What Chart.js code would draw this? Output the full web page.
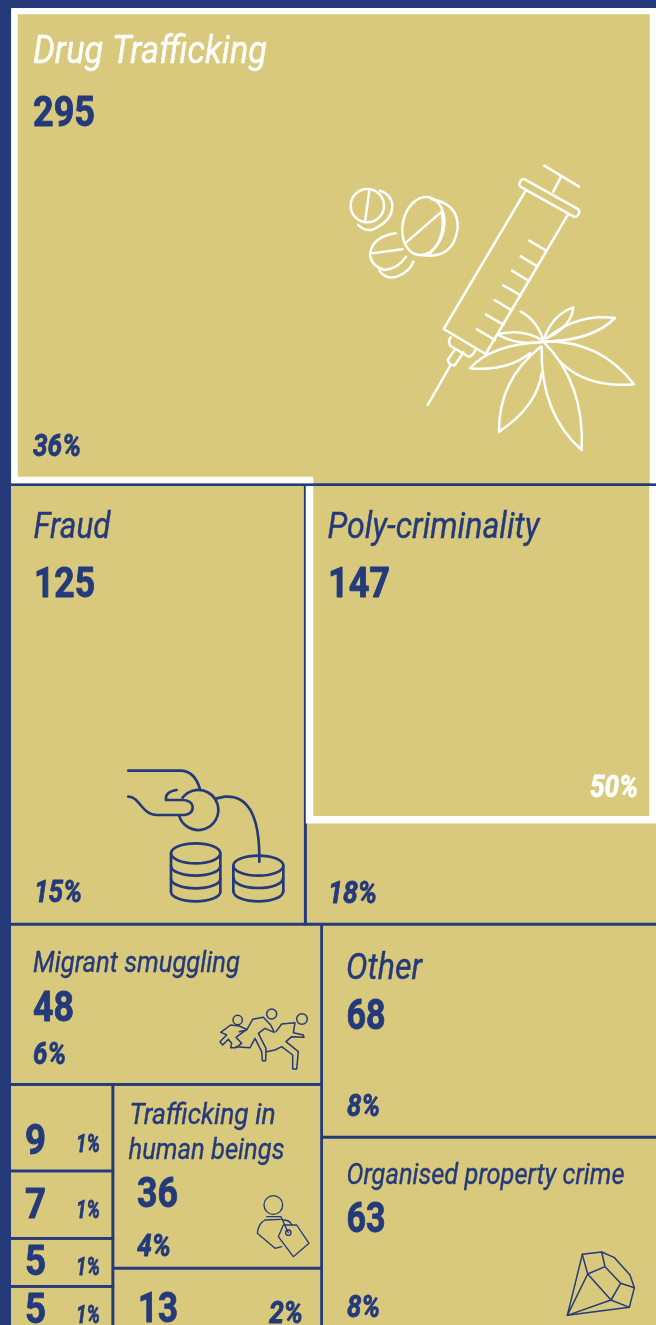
<!DOCTYPE html>
<html>
<head>
<meta charset="utf-8">
<script src="https://cdn.jsdelivr.net/npm/chart.js@4/dist/chart.umd.min.js"></script>
<style>
html, body { margin: 0; padding: 0; background: #243a7a; overflow: hidden; }
canvas { display: block; }
</style>
</head>
<body>
<canvas id="chart" width="656" height="1325"></canvas>
<script>
// 數據 (cell names, counts, share labels)
const categories = ['Drug Trafficking', 'Fraud', 'Poly-criminality', 'Migrant smuggling', 'Other',
    'Trafficking in', 'human beings', 'Organised property crime'];
const drugCount = 295;
const fraudCount = 125;
const polyCount = 147;
const migrantCount = 48;
const otherCount = 68;
const humanCount = 36;
const propertyCount = 63;
const smallCounts = [9, 7, 5, 5];
const thirteenCount = 13;
const shares = ['36%', '15%', '18%', '6%', '8%', '4%', '8%', '1%', '2%'];
const overlapShare = '50%';

const TAN = '#d9c97d';
const NAVY = '#243a7a';
const WHITE = '#ffffff';

// 樹狀圖 slice and dice, v = stacked rows, h = side by side
const tree = ['v', drugCount,
    ['h', fraudCount, polyCount],
    ['h',
        ['v', migrantCount,
            ['h', ['v', ...smallCounts], ['v', humanCount, thirteenCount]]],
        ['v', otherCount, propertyCount]]];

function total(node) {
    return Array.isArray(node) ? node.slice(1).reduce((s, n) => s + total(n), 0) : node;
}

const cells = [];
function layout(node, x, y, w, h) {
    if (!Array.isArray(node)) {
        cells.push({ x0: x, y0: y, x1: x + w, y1: y + h, value: node });
        return;
    }
    const sum = total(node);
    let pos = 0;
    node.slice(1).forEach(child => {
        const part = total(child) / sum;
        if (node[0] === 'v') layout(child, x, y + pos * h, w, part * h);
        else layout(child, x + pos * w, y, part * w, h);
        pos += part;
    });
}
layout(tree, 2, 8, 660, 1326.6);

function corners(c) {
    return [{ x: c.x0, y: c.y0 }, { x: c.x1, y: c.y0 }, { x: c.x1, y: c.y1 }, { x: c.x0, y: c.y1 }, { x: c.x0, y: c.y0 }];
}

const datasets = cells.map(c => ({
    label: String(c.value),
    data: corners(c),
    showLine: true,
    tension: 0,
    pointRadius: 0,
    borderWidth: 2.8,
    borderColor: NAVY,
    backgroundColor: TAN,
    fill: 'shape',
    order: 5
}));

// 白框 (the two white outlines)
const drugCell = cells[0];
const polyCell = cells[2];
datasets.push({
    label: 'drug frame',
    data: [
        { x: 653, y: drugCell.y1 - 1.4 },
        { x: 653, y: 11 },
        { x: 14.5, y: 11 },
        { x: 14.5, y: drugCell.y1 - 4.6 },
        { x: polyCell.x0 + 8, y: drugCell.y1 - 4.6 }
    ],
    showLine: true, tension: 0, pointRadius: 0,
    borderWidth: 6.5, borderColor: WHITE, fill: false,
    borderCapStyle: 'butt', borderJoinStyle: 'miter', order: 1
});
datasets.push({
    label: 'poly frame',
    data: [
        { x: polyCell.x0 + 4.2, y: polyCell.y0 + 1.4 },
        { x: polyCell.x0 + 4.2, y: 819.7 },
        { x: 653, y: 819.7 },
        { x: 653, y: polyCell.y0 + 1.4 }
    ],
    showLine: true, tension: 0, pointRadius: 0,
    borderWidth: 7.5, borderColor: WHITE, fill: false,
    borderCapStyle: 'butt', borderJoinStyle: 'miter', order: 1
});

const NAME = 'italic 400';
const COUNT = '700';
const PCT = 'italic 700';
// 字重補償: Roboto is lighter than the condensed face in the picture
const weightStroke = { [NAME]: 0.4, [COUNT]: 0.9, [PCT]: 0.8 };
// text, left x, baseline y, font, size, width, colour
const textItems = [
    [categories[0], 33, 63, NAME, 38, 234, WHITE],
    [drugCount, 33, 126, COUNT, 42, 62, NAVY],
    [shares[0], 33, 456, PCT, 32, 48, NAVY],
    [categories[1], 33.5, 538, NAME, 37, 77, NAVY],
    [fraudCount, 34, 597, COUNT, 42, 61, NAVY],
    [shares[1], 34, 902, PCT, 32, 48, NAVY],
    [categories[2], 327.5, 538, NAME, 37, 212, NAVY],
    [polyCount, 328, 597, COUNT, 42, 62, NAVY],
    [overlapShare, 590, 797, PCT, 32, 48, WHITE],
    [shares[2], 328, 903, PCT, 32, 49, NAVY],
    [categories[3], 33, 972, NAME, 30, 207, NAVY],
    [migrantCount, 33, 1021, COUNT, 42, 41, NAVY],
    [shares[3], 33, 1064, PCT, 31, 33, NAVY],
    [categories[4], 346, 979, NAME, 37, 76, NAVY],
    [otherCount, 346.5, 1029, COUNT, 42, 39, NAVY],
    [shares[4], 347, 1116, PCT, 31, 33, NAVY],
    [categories[7], 346.5, 1184, NAME, 30, 278, NAVY],
    [propertyCount, 346.5, 1232, COUNT, 42, 39, NAVY],
    [shares[6], 347, 1317, PCT, 31, 33, NAVY],
    [smallCounts[0], 25, 1154, COUNT, 42, 21, NAVY],
    [shares[7], 76, 1152, PCT, 25, 24, NAVY],
    [smallCounts[1], 25, 1218, COUNT, 42, 21, NAVY],
    [shares[7], 76, 1218, PCT, 25, 24, NAVY],
    [smallCounts[2], 25, 1275, COUNT, 42, 21, NAVY],
    [shares[7], 76, 1275, PCT, 25, 24, NAVY],
    [smallCounts[3], 25, 1323, COUNT, 42, 21, NAVY],
    [shares[7], 76, 1323, PCT, 25, 24, NAVY],
    [categories[5], 129.5, 1124, NAME, 30, 146, NAVY],
    [categories[6], 128.5, 1159, NAME, 30, 156, NAVY],
    [humanCount, 137, 1207, COUNT, 42, 41, NAVY],
    [shares[5], 137, 1256, PCT, 32, 34, NAVY],
    [thirteenCount, 138, 1322, COUNT, 42, 40, NAVY],
    [shares[8], 269, 1323, PCT, 31, 34, NAVY]
];

// 圖示 helpers, each icon is traced at 3x from its own origin
function icon(ctx, ox, oy, color, lw, draw) {
    ctx.save();
    ctx.translate(ox, oy);
    ctx.scale(1 / 3, 1 / 3);
    ctx.strokeStyle = color;
    ctx.lineWidth = lw;
    ctx.lineCap = 'round';
    ctx.lineJoin = 'round';
    draw(ctx);
    ctx.restore();
}

function paths(ctx, list) {
    list.forEach(d => ctx.stroke(new Path2D(d)));
}

function drawDrugs(ctx) {
    paths(ctx, [
        // syringe
        'M643 47L747 110M693 80L670 125',
        'M587 122L341 537L467 612L713 195',
        'M598 272L650 303M572 319L622 349M546 362L597 393M520 406L572 436M494 450L545 481M468 494L520 524M441 538L495 570',
        'M362 562Q352 575 362 588L415 620Q430 618 436 600',
        'M375 598L353 630Q358 648 375 645L400 607M362 645L293 765',
        // leaf
        'M640 572Q665 495 730 472Q725 525 660 560',
        'M650 565Q740 490 855 504Q790 570 650 575',
        'M640 574Q810 570 912 703Q770 715 690 635',
        'M640 575Q765 700 755 900Q630 790 635 590',
        'M632 590Q505 690 507 845Q620 770 635 670',
        'M635 575Q480 585 420 655Q530 665 600 610',
        'M505 552Q580 535 635 570M505 555Q560 585 635 577',
        'M572 485Q620 510 640 570',
        // pills
        'M118 122L105 215',
        'M150 122Q187 135 187 170Q185 215 125 240Q100 242 85 225',
        'M228 278L335 185',
        'M305 148Q385 160 383 235Q370 330 275 315',
        'M335 185Q350 260 300 310',
        'M197 250Q125 260 120 315Q125 350 165 360Q205 355 228 320',
        'M128 310L217 298',
        'M148 362Q170 390 200 380Q240 365 250 335'
    ]);
    ctx.beginPath();
    ctx.ellipse(112, 167, 50, 50, 0, 0, Math.PI * 2);
    ctx.stroke();
    ctx.beginPath();
    ctx.ellipse(280, 228, 62, 88, 0.2, 0, Math.PI * 2);
    ctx.stroke();
    ctx.save();
    ctx.translate(658, 144);
    ctx.rotate(0.51);
    ctx.beginPath();
    ctx.roundRect(-100, -13, 200, 26, 10);
    ctx.stroke();
    ctx.restore();
}

function drawHand(ctx) {
    paths(ctx, [
        'M55 62L215 62Q255 65 270 118',
        'M55 140C90 140 95 195 140 195L225 195Q250 190 248 170Q245 150 215 150L168 150Q165 125 200 120',
        'M320 145L345 140C410 135 450 190 448 335',
        'M183 310L183 425M331 310L331 425',
        'M370 347L370 425M520 347L520 425'
    ]);
    ctx.beginPath();
    ctx.arc(265, 180, 60, 164 * Math.PI / 180, 218 * Math.PI / 180, true);
    ctx.stroke();
    [[257, 310, 74, 30], [445, 347, 75, 30]].forEach(([cx, cy, rx, ry]) => {
        ctx.beginPath();
        ctx.ellipse(cx, cy, rx, ry, 0, 0, Math.PI * 2);
        ctx.stroke();
    });
    [[257, 348], [257, 386], [257, 425], [445, 385], [445, 425]].forEach(([cx, cy]) => {
        ctx.beginPath();
        ctx.ellipse(cx, cy, 74, 29, 0, 0, Math.PI);
        ctx.stroke();
    });
}

function drawRunners(ctx) {
    paths(ctx, [
        'M62 97L92 75L118 78L140 88L108 112L125 130L108 143L92 143L95 130L85 118L68 135L60 125L80 105L70 100Z',
        'M108 140L150 143L165 115L185 155L187 182L197 182L198 145L175 100L195 85L222 97',
        'M118 95L140 90L158 58L190 52L212 75L222 95',
        'M228 95L245 72L285 68L280 98L310 105L312 112L275 110L258 125L295 155L290 207L278 207L278 165L245 140L225 150L200 155'
    ]);
    [[113, 60, 14], [215, 42, 15], [306, 57, 16]].forEach(([x, y, r]) => {
        ctx.beginPath();
        ctx.arc(x, y, r, 0, Math.PI * 2);
        ctx.stroke();
    });
}

function drawPerson(ctx) {
    paths(ctx, [
        'M800 410L843 410L865 458',
        'M843 418L795 420Q775 430 772 460L825 505L845 500',
        'M850 420Q870 420 875 435',
        'M850 435L890 435L927 490L880 530L835 470Z'
    ]);
    ctx.beginPath();
    ctx.arc(820, 375, 28, 0, Math.PI * 2);
    ctx.stroke();
    ctx.beginPath();
    ctx.arc(865, 458, 8, 0, Math.PI * 2);
    ctx.stroke();
}

function drawDiamond(ctx) {
    paths(ctx, [
        'M82 256L127 73L185 66L222 82L270 135L283 173L268 232Z',
        'M127 73L143 132L195 110L185 66M195 110L242 160L283 173M242 160L213 210L143 132L82 256M213 210L268 232M213 210L82 256'
    ]);
}

const decorations = {
    id: 'decorations',
    afterDraw(chart) {
        const ctx = chart.ctx;
        ctx.save();
        // 藍色邊條
        ctx.fillStyle = NAVY;
        ctx.fillRect(0, 0, 11, 1325);
        ctx.fillRect(0, 0, 656, 8);
        icon(ctx, 330, 150, WHITE, 7.5, drawDrugs);
        icon(ctx, 110, 750, NAVY, 8, drawHand);
        icon(ctx, 200, 1000, NAVY, 4.5, drawRunners);
        icon(ctx, 0, 1080, NAVY, 4, drawPerson);
        icon(ctx, 540, 1230, NAVY, 4.5, drawDiamond);
        ctx.textBaseline = 'alphabetic';
        ctx.textAlign = 'left';
        ctx.lineJoin = 'round';
        textItems.forEach(([text, x, y, style, size, width, color]) => {
            ctx.font = `${style} ${size}px Roboto`;
            ctx.fillStyle = color;
            ctx.strokeStyle = color;
            ctx.lineWidth = weightStroke[style];
            ctx.fillText(String(text), x, y, width);
            ctx.strokeText(String(text), x, y, width);
        });
        ctx.restore();
    }
};

new Chart(document.getElementById('chart'), {
    type: 'scatter',
    data: { datasets },
    options: {
        responsive: false,
        animation: false,
        devicePixelRatio: 1,
        layout: { padding: 0 },
        scales: {
            x: { type: 'linear', display: false, min: 0, max: 656 },
            y: { type: 'linear', display: false, min: 0, max: 1325, reverse: true }
        },
        plugins: { legend: { display: false }, tooltip: { enabled: false } }
    },
    plugins: [decorations]
});
</script>
</body>
</html>
